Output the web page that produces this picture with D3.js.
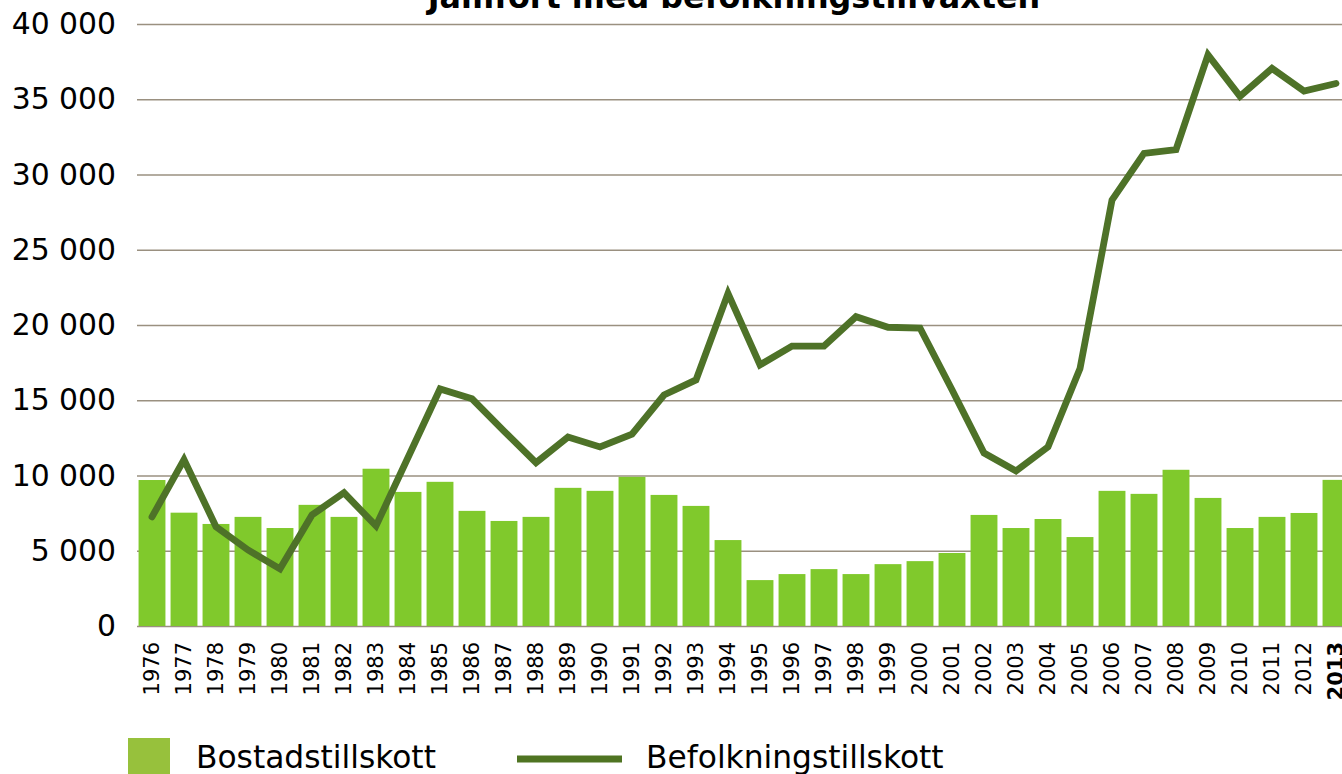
<!DOCTYPE html>
<html>
<head>
<meta charset="utf-8">
<script src="https://cdn.jsdelivr.net/npm/d3@7"></script>
<style>
  html, body { margin: 0; padding: 0; background: #fff; overflow: hidden; }
  text { font-family: 'DejaVu Sans', Verdana, sans-serif; fill: #000; }
</style>
</head>
<body>
<div class="container"></div>
<script>
const w = 1342;
const h = 774;

// data
const years = d3.range(1976, 2014).map(String);
const bostad = [9700, 7530, 6780, 7250, 6510, 8050, 7250, 10450, 8910, 9580,
                7650, 6980, 7250, 9180, 8980, 9910, 8710, 7980, 5710, 3050,
                3450, 3780, 3450, 4110, 4310, 4850, 7380, 6510, 7110, 5910,
                8980, 8780, 10380, 8510, 6510, 7250, 7510, 9710];
const befolkning = [7250, 11050, 6600, 5050, 3800, 7380, 8850, 6650, 11200, 15750,
                    15100, 12950, 10850, 12550, 11900, 12750, 15350, 16350, 22100, 17350,
                    18600, 18600, 20550, 19850, 19800, 15700, 11500, 10300, 11900, 17100,
                    28300, 31400, 31650, 37950, 35200, 37050, 35550, 36050];
const yTicks = [0, 5000, 10000, 15000, 20000, 25000, 30000, 35000, 40000];
const seriesNames = ['Bostadstillskott', 'Befolkningstillskott'];

const barColor = '#80c92c';
const lineColor = '#4e7228';

const svg = d3.select('.container')
              .append('svg')
              .attr('width', w)
              .attr('height', h);

// scales
const xScale = d3.scaleBand()
                 .domain(years)
                 .range([136, 1352])
                 .paddingInner(0.16)
                 .paddingOuter(0.08);

const yScale = d3.scaleLinear()
                 .domain([0, 40000])
                 .range([626, 24]);

const fmt = (d) => d3.format(',')(d).replace(/,/g, ' ');

// gridlines + y labels
const yAxis = d3.axisLeft(yScale)
                .tickValues(yTicks)
                .tickSize(-(w - 137 + 20))
                .tickFormat(fmt);
const yg = svg.append('g')
              .attr('transform', 'translate(137,0)')
              .call(yAxis);
yg.select('.domain').remove();
yg.selectAll('.tick line')
  .attr('stroke', '#9a9080')
  .attr('stroke-width', 1.6);
yg.selectAll('.tick text')
  .attr('x', -21)
  .attr('dy', '9.7px')
  .style('font-size', '29.8px')
  .style('font-family', "'DejaVu Sans', Verdana, sans-serif")
  .attr('fill', '#000');

// bars
svg.selectAll('rect.bar')
   .data(bostad)
   .enter()
   .append('rect')
   .attr('class', 'bar')
   .attr('x', (d, i) => xScale(years[i]))
   .attr('y', (d) => yScale(d))
   .attr('width', xScale.bandwidth())
   .attr('height', (d) => yScale(0) - yScale(d))
   .attr('fill', barColor);

// line
const line = d3.line()
               .x((d, i) => xScale(years[i]) + xScale.bandwidth() / 2)
               .y((d) => yScale(d));
svg.append('path')
   .datum(befolkning)
   .attr('d', line)
   .attr('fill', 'none')
   .attr('stroke', lineColor)
   .attr('stroke-width', 6.8)
   .attr('stroke-linejoin', 'miter')
   .attr('stroke-linecap', 'round');

// x labels, rotated
svg.append('g')
   .selectAll('text')
   .data(years)
   .enter()
   .append('text')
   .attr('transform', (d) => `translate(${xScale(d) + xScale.bandwidth() / 2}, 642) rotate(-90)`)
   .attr('text-anchor', 'end')
   .attr('dy', '0.35em')
   .style('font-size', '21px')
   .style('font-weight', (d) => d === '2013' ? 'bold' : 'normal')
   .text((d) => d);

// title (cut off at top)
svg.append('text')
   .attr('x', 734)
   .attr('y', 8)
   .attr('text-anchor', 'middle')
   .style('font-size', '31.8px')
   .style('font-weight', 'bold')
   .text('Jämfört med befolkningstillväxten');

// legend
const legend = svg.append('g');
legend.append('rect')
      .attr('x', 128)
      .attr('y', 738)
      .attr('width', 42)
      .attr('height', 40)
      .attr('fill', '#97c13c');
legend.append('text')
      .attr('x', 196)
      .attr('y', 768)
      .style('font-size', '31.3px')
      .text(seriesNames[0]);
legend.append('line')
      .attr('x1', 517)
      .attr('x2', 622)
      .attr('y1', 759)
      .attr('y2', 759)
      .attr('stroke', '#4f7422')
      .attr('stroke-width', 7);
legend.append('text')
      .attr('x', 646)
      .attr('y', 768)
      .style('font-size', '31.3px')
      .text(seriesNames[1]);
</script>
</body>
</html>
